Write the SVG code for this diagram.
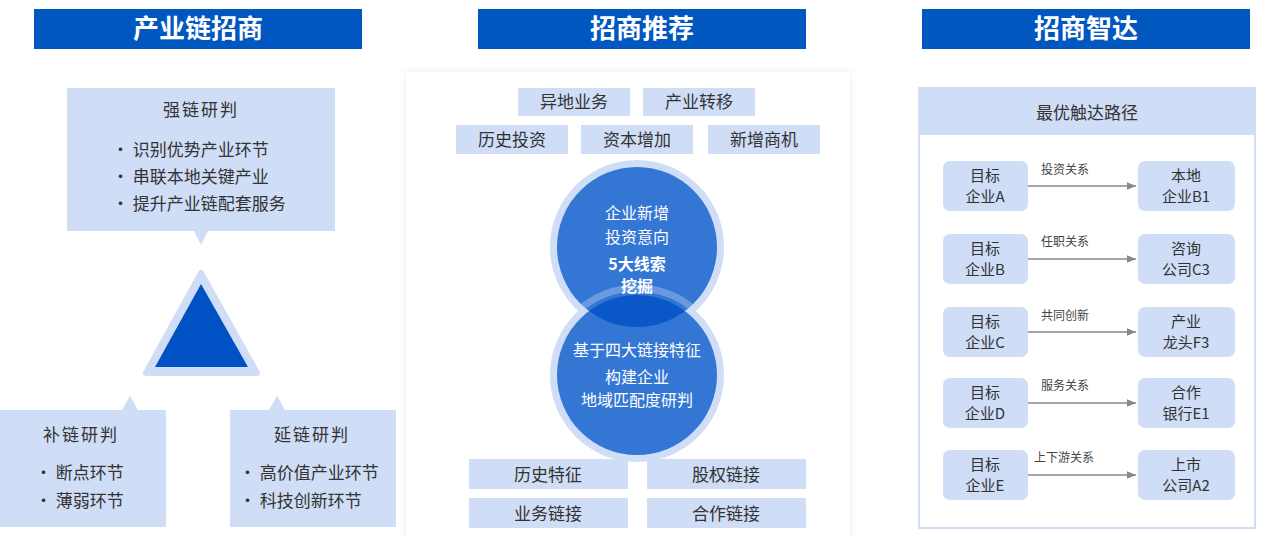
<svg xmlns="http://www.w3.org/2000/svg" width="1265" height="536" viewBox="0 0 1265 536">
<defs>
<style>
text{font-family:"Noto Sans CJK SC","Noto Sans",sans-serif}
.hdr{fill:#0057c0}
.ht{fill:#fff;font-size:26px;font-weight:bold;text-anchor:middle}
.lb{fill:#cfddf6}
.t{fill:#333;font-size:17px}
.tc{fill:#333;font-size:17px;text-anchor:middle}
.tn{fill:#333;font-size:15px;text-anchor:middle}
.wt{fill:#fff;font-size:16px;text-anchor:middle}
.sm{fill:#444;font-size:12px}
.rx{fill:#cfddf6}
</style>
<marker id="ar" markerWidth="8" markerHeight="8" refX="7" refY="3" orient="auto"><path d="M0,0 L7,3 L0,6 z" fill="#888"/></marker>
<filter id="sh" x="-5%" y="-5%" width="110%" height="110%"><feDropShadow dx="0" dy="0" stdDeviation="3" flood-color="#000" flood-opacity="0.08"/></filter>
<clipPath id="topc"><circle cx="637" cy="247" r="80"/></clipPath>
</defs>
<rect width="1265" height="536" fill="#fff"/>
<g id="headers">
<rect class="hdr" x="34" y="9" width="328" height="40"/><text class="ht" x="198" y="38">产业链招商</text>
<rect class="hdr" x="478" y="9" width="328" height="40"/><text class="ht" x="642" y="38">招商推荐</text>
<rect class="hdr" x="922" y="9" width="328" height="40"/><text class="ht" x="1086" y="38">招商智达</text>
</g>
<g id="left">
<g id="strong"><path class="lb" d="M67,88 H335 V231 H208 L201,245 L194,231 H67 Z"/>
<text class="tc" x="201" y="116" letter-spacing="2">强链研判</text>
<text class="t" x="112" y="156">• 识别优势产业环节</text>
<text class="t" x="112" y="183">• 串联本地关键产业</text>
<text class="t" x="112" y="210">• 提升产业链配套服务</text></g>
<g id="tri"><path d="M201,273 L257,373 H146 Z" fill="#cfddf6" stroke="#cfddf6" stroke-width="6" stroke-linejoin="round"/>
<path d="M201,284 L248,367 H155 Z" fill="#0052c4"/></g>
<g id="bu"><path class="lb" d="M0,410 H122 L130,396 L138,410 H166 V527 H0 Z"/>
<text class="tc" x="81" y="441" letter-spacing="2">补链研判</text>
<text class="t" x="35" y="479">• 断点环节</text>
<text class="t" x="35" y="507">• 薄弱环节</text></g>
<g id="yan"><path class="lb" d="M230,410 H269 L277,396 L285,410 H396 V527 H230 Z"/>
<text class="tc" x="312" y="441" letter-spacing="2">延链研判</text>
<text class="t" x="239" y="479">• 高价值产业环节</text>
<text class="t" x="239" y="507">• 科技创新环节</text></g>
</g>
<g id="middle">
<rect x="406" y="72" width="444" height="470" fill="#fff" filter="url(#sh)"/>
<g class="tags">
<rect class="lb" x="518" y="88" width="112" height="28"/><text class="tc" x="574" y="108">异地业务</text>
<rect class="lb" x="643" y="88" width="112" height="28"/><text class="tc" x="699" y="108">产业转移</text>
<rect class="lb" x="456" y="125" width="112" height="29"/><text class="tc" x="512" y="146">历史投资</text>
<rect class="lb" x="581" y="125" width="112" height="29"/><text class="tc" x="637" y="146">资本增加</text>
<rect class="lb" x="708" y="125" width="112" height="29"/><text class="tc" x="764" y="146">新增商机</text>
</g>
<g id="circles">
<circle cx="637" cy="247" r="87" fill="#cfddf6"/>
<circle cx="637" cy="375" r="87" fill="#cfddf6"/>
<circle cx="637" cy="247" r="80" fill="#3476d4"/>
<circle cx="637" cy="375" r="80" fill="#3476d4"/>
<circle cx="637" cy="375" r="87" fill="none" stroke="#cfddf6" stroke-width="7" stroke-opacity="0.35" clip-path="url(#topc)"/>
<circle cx="637" cy="375" r="80" fill="#0a58c8" clip-path="url(#topc)"/>
<text class="wt" x="637" y="219">企业新增</text>
<text class="wt" x="637" y="243">投资意向</text>
<text class="wt" x="637" y="270" font-weight="bold">5大线索</text>
<text class="wt" x="637" y="292" font-weight="bold">挖掘</text>
<text class="wt" x="637" y="356">基于四大链接特征</text>
<text class="wt" x="637" y="383">构建企业</text>
<text class="wt" x="637" y="406">地域匹配度研判</text>
</g>
<g class="tags">
<rect class="lb" x="469" y="459" width="159" height="30"/><text class="tc" x="548" y="481">历史特征</text>
<rect class="lb" x="647" y="459" width="159" height="30"/><text class="tc" x="726" y="481">股权链接</text>
<rect class="lb" x="469" y="498" width="159" height="30"/><text class="tc" x="548" y="520">业务链接</text>
<rect class="lb" x="647" y="498" width="159" height="30"/><text class="tc" x="726" y="520">合作链接</text>
</g>
</g>
<g id="right">
<rect x="919" y="88" width="336" height="440" fill="#fff" stroke="#cfddf6" stroke-width="2"/>
<rect class="lb" x="919" y="88" width="336" height="47"/>
<text class="tc" x="1087" y="119" font-size="20">最优触达路径</text>
<g id="rowA"><rect class="rx" x="943" y="161" width="85" height="50" rx="7"/><text class="tn" x="985" y="181">目标</text><text class="tn" x="985" y="202">企业A</text>
<rect class="rx" x="1138" y="161" width="97" height="50" rx="7"/><text class="tn" x="1186" y="181">本地</text><text class="tn" x="1186" y="202">企业B1</text></g>
<g id="rowB"><rect class="rx" x="943" y="234" width="85" height="50" rx="7"/><text class="tn" x="985" y="254">目标</text><text class="tn" x="985" y="275">企业B</text>
<rect class="rx" x="1138" y="234" width="97" height="50" rx="7"/><text class="tn" x="1186" y="254">咨询</text><text class="tn" x="1186" y="275">公司C3</text></g>
<g id="rowC"><rect class="rx" x="943" y="307" width="85" height="50" rx="7"/><text class="tn" x="985" y="327">目标</text><text class="tn" x="985" y="348">企业C</text>
<rect class="rx" x="1138" y="307" width="97" height="50" rx="7"/><text class="tn" x="1186" y="327">产业</text><text class="tn" x="1186" y="348">龙头F3</text></g>
<g id="rowD"><rect class="rx" x="943" y="378" width="85" height="50" rx="7"/><text class="tn" x="985" y="398">目标</text><text class="tn" x="985" y="419">企业D</text>
<rect class="rx" x="1138" y="378" width="97" height="50" rx="7"/><text class="tn" x="1186" y="398">合作</text><text class="tn" x="1186" y="419">银行E1</text></g>
<g id="rowE"><rect class="rx" x="943" y="450" width="85" height="50" rx="7"/><text class="tn" x="985" y="470">目标</text><text class="tn" x="985" y="491">企业E</text>
<rect class="rx" x="1138" y="450" width="97" height="50" rx="7"/><text class="tn" x="1186" y="470">上市</text><text class="tn" x="1186" y="491">公司A2</text></g>
</g>
<g id="connectors" stroke="#888" stroke-width="1.3" marker-end="url(#ar)">
<line x1="1028" y1="186" x2="1136" y2="186"/>
<line x1="1028" y1="259" x2="1136" y2="259"/>
<line x1="1028" y1="332" x2="1136" y2="332"/>
<line x1="1028" y1="403" x2="1136" y2="403"/>
<line x1="1028" y1="475" x2="1136" y2="475"/>
</g>
<g id="edge-labels">
<text class="sm" x="1041" y="174">投资关系</text>
<text class="sm" x="1041" y="246">任职关系</text>
<text class="sm" x="1041" y="320">共同创新</text>
<text class="sm" x="1041" y="390">服务关系</text>
<text class="sm" x="1034" y="462">上下游关系</text>
</g>
</svg>
